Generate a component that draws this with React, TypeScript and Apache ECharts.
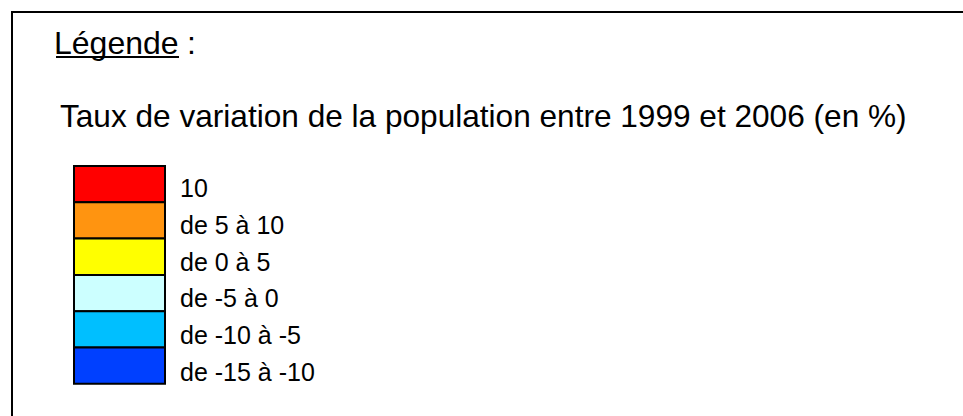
import React, { useEffect, useRef } from "react";
import * as echarts from "echarts";

const legendTitle = "Légende";
const chartTitle = "Taux de variation de la population entre 1999 et 2006 (en %)";
const classLabels = ["10", "de 5 à 10", "de 0 à 5", "de -5 à 0", "de -10 à -5", "de -15 à -10"];
const classColors = ["#ff0000", "#ff9410", "#ffff00", "#ccffff", "#00bfff", "#0040ff"];

const FONT = "'Liberation Sans', Arial, Helvetica, sans-serif";

export default function App() {
  const ref = useRef<HTMLDivElement>(null);
  useEffect(() => {
    if (!ref.current) return;
    const chart = echarts.init(ref.current, undefined, { renderer: "svg" });
    const boxX = 74;
    const boxW = 91;
    const boxY0 = 166;
    const boxH = 36.3;
    const labelY0 = 188;
    const labelStep = 36.8;
    const elements: any[] = [
      {
        type: "rect",
        shape: { x: 12, y: 12, width: 1000, height: 500 },
        style: { fill: "#fff", stroke: "#000", lineWidth: 2 },
        z: 0,
      },
      {
        type: "text",
        x: 54,
        y: 43,
        style: { text: legendTitle, font: `32px ${FONT}`, fill: "#000", verticalAlign: "middle", align: "left" },
        z: 2,
      },
      {
        type: "text",
        x: 187,
        y: 43,
        style: { text: ":", font: `32px ${FONT}`, fill: "#000", verticalAlign: "middle", align: "left" },
        z: 2,
      },
      {
        type: "line",
        shape: { x1: 56, y1: 57, x2: 179, y2: 57 },
        style: { stroke: "#000", lineWidth: 2 },
        z: 2,
      },
      {
        type: "text",
        x: 60,
        y: 116,
        style: { text: chartTitle, font: `31.6px ${FONT}`, fill: "#000", verticalAlign: "middle", align: "left" },
        z: 2,
      },
    ];
    classLabels.forEach((lab, i) => {
      elements.push({
        type: "rect",
        shape: { x: boxX, y: boxY0 + i * boxH, width: boxW, height: boxH },
        style: { fill: classColors[i], stroke: "#000", lineWidth: 2 },
        z: 2,
      });
      elements.push({
        type: "text",
        x: 180,
        y: labelY0 + i * labelStep,
        style: { text: lab, font: `25px ${FONT}`, fill: "#000", verticalAlign: "middle", align: "left" },
        z: 2,
      });
    });
    chart.setOption({
      animation: false,
      backgroundColor: "#ffffff",
      graphic: { elements },
    });
    return () => chart.dispose();
  }, []);
  return (
    <div
      ref={ref}
      style={{ position: "fixed", left: 0, top: 0, width: 963, height: 416 }}
    />
  );
}
